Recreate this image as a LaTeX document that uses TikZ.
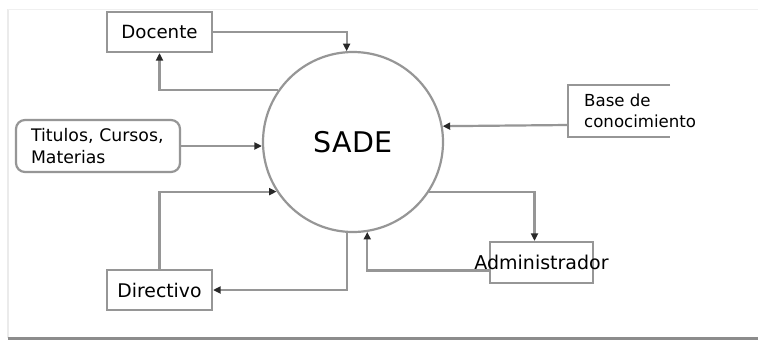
\documentclass[tikz,border=0pt]{standalone}
\usepackage{fontspec}
\setmainfont{DejaVu Sans}
\usetikzlibrary{arrows.meta,calc}
\definecolor{linegray}{RGB}{150,150,150}
\definecolor{tipgray}{RGB}{40,40,40}
\begin{document}
\begin{tikzpicture}[x=1pt,y=-1pt,
  box/.style={draw=linegray,line width=2.2pt,inner sep=0pt,minimum width=105pt,minimum height=40pt},
  flow/.style={draw=linegray,line width=2.2pt,-{Triangle[length=7.5pt,width=7pt,fill=tipgray,color=tipgray]}}]
\useasboundingbox (0,0) rectangle (758,341);
\fill[white] (0,0) rectangle (758,341);
% frame
\draw[black!8,line width=1.5pt] (8,9) -- (8,338);
\draw[black!6,line width=1pt] (8,9) -- (758,9);
\draw[black!45,line width=2.5pt] (8,338.5) -- (758,338.5);
% nodes
\node[box,font=\fontsize{18.2}{21}\selectfont] (docente) at (159.5,32) {Docente};
\node[circle,draw=linegray,line width=2.2pt,minimum size=180pt,inner sep=0pt,font=\fontsize{28.5}{32}\selectfont] (sade) at (353,142) {SADE};
\node[draw=linegray,line width=2.2pt,rounded corners=9pt,minimum height=52pt,inner xsep=15pt,inner ysep=0pt,text width=134pt,align=left,font=\fontsize{17.3}{22}\selectfont] (titulos) at (98,146) {Titulos, Cursos,\\Materias};
\node[box,font=\fontsize{18.8}{21}\selectfont] (directivo) at (159.5,290) {Directivo};
\node[box,minimum width=103pt,minimum height=41pt,font=\fontsize{19}{21}\selectfont] (admin) at (541.5,262.5) {\makebox[0pt]{Administrador}};
\node[anchor=west,minimum height=52pt,inner xsep=16pt,inner ysep=0pt,align=left,font=\fontsize{16.6}{21}\selectfont] (base) at (568,111) {Base de\\conocimiento};
\draw[linegray,line width=2.2pt] ($(base.north west)+(102,0)$) -- (base.north west) -- (base.south west) -- ++(102,0);
% connectors
\draw[flow] (docente.east) -| (sade.94);
\draw[flow] (sade.145.5) -| (docente.south);
\draw[flow] (titulos.east) -- (sade.west |- titulos.east);
\draw[flow] ($(base.west)+(0,14)$) -- (sade.10.9);
\draw[flow] (directivo.north) |- (sade.213.8);
\draw[flow] (sade.266) |- (directivo.east);
\draw[flow] ($(admin.west)+(0,8)$) -| (sade.279);
\draw[flow] (sade.327) -| ($(admin.north)+(-7,0)$);
\end{tikzpicture}
\end{document}
